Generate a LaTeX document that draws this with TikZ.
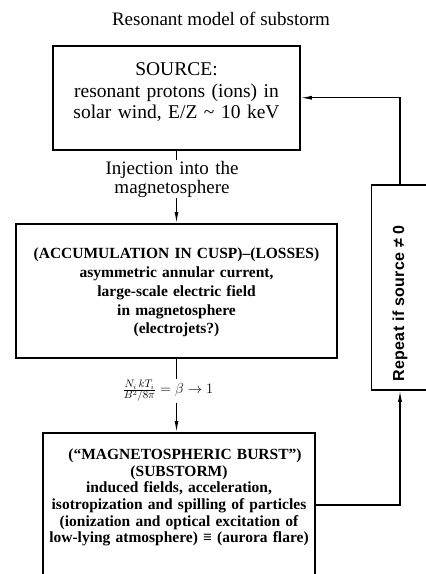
\documentclass[tikz,border=0pt]{standalone}
\usepackage{fontspec}
\setmainfont{Liberation Serif}
\newfontfamily\repfont[LetterSpace=2.3]{Liberation Sans}
\usetikzlibrary{arrows.meta,positioning,calc}

\begin{document}
\begin{tikzpicture}[
  x=1pt, y=-1pt,
  >={Latex[length=11pt,width=4pt]},
  box/.style={draw=black, line width=1.5pt, align=center, inner xsep=0pt, inner ysep=0pt, anchor=north},
  srcbox/.style={box, font=\fontsize{19.5}{21.5}\selectfont, minimum width=247pt, text width=240pt, text height=30pt, text depth=74pt},
  accbox/.style={box, font=\fontsize{15.5}{18.8}\selectfont\bfseries, minimum width=321pt, text width=315pt, text height=35pt, text depth=99pt},
  burstbox/.style={box, font=\fontsize{15.5}{16.6}\selectfont\bfseries, minimum width=272pt, text width=268pt, text height=27pt, text depth=150pt},
  repbox/.style={draw=black, line width=1.5pt, minimum width=57pt, minimum height=205pt, inner sep=0pt, font=\repfont\fontsize{16}{18}\selectfont\bfseries},
  midtext/.style={align=center, inner sep=1pt},
  arrow/.style={->, line width=1.1pt, draw=black}
]
  \useasboundingbox (0,0) rectangle (426,574);

  % Title
  \node[midtext, anchor=base, font=\fontsize{19}{20}\selectfont] (title) at (221,25) {Resonant model of substorm};

  % Boxes
  \node[srcbox] (src) at (176.5,45) {SOURCE:\\
    resonant protons (ions) in\\
    solar wind, E/Z \textasciitilde{} 10 keV};
  \node[accbox] (acc) at (176.5,223) {(ACCUMULATION IN CUSP)--(LOSSES)\\
    asymmetric annular current,\\
    large-scale electric field\\
    in magnetosphere\\
    (electrojets?)};
  \node[burstbox] (burst) at (179,432) {\hspace*{12pt}(``MAGNETOSPHERIC BURST'')\\
    (SUBSTORM)\\
    induced fields, acceleration,\\
    isotropization and spilling of particles\\
    (ionization and optical excitation of\\
    low-lying atmosphere) ≡ (aurora flare)};
  \node[repbox] (rep) at (400,287.5) {\rotatebox{90}{Repeat if source ≠ 0\hspace*{32pt}}};

  % Labels on the main line
  \node[midtext, anchor=base, text width=160pt, font=\fontsize{19}{19}\selectfont] (inj) at (172,174) {Injection into the\\ magnetosphere};
  \node[midtext, font=\fontsize{15}{15}\selectfont] (beta) at (168,391) {$\frac{N_i\,kT_i}{B^2/8\pi}=\beta\to 1$};

  % Connectors
  \draw[line width=1.1pt] (src.south) -- (src.south |- inj.north);
  \draw[arrow] (src.south |- inj.south) -- (src.south |- acc.north);
  \draw[line width=1.1pt] (acc.south) -- (acc.south |- beta.north);
  \draw[arrow] (acc.south |- beta.south) -- (acc.south |- burst.north);

  \draw[arrow] (rep.north) |- (src.east);
  \draw[arrow] ([yshift=-73pt]burst.north east) -| (rep.south);

\end{tikzpicture}
\end{document}
